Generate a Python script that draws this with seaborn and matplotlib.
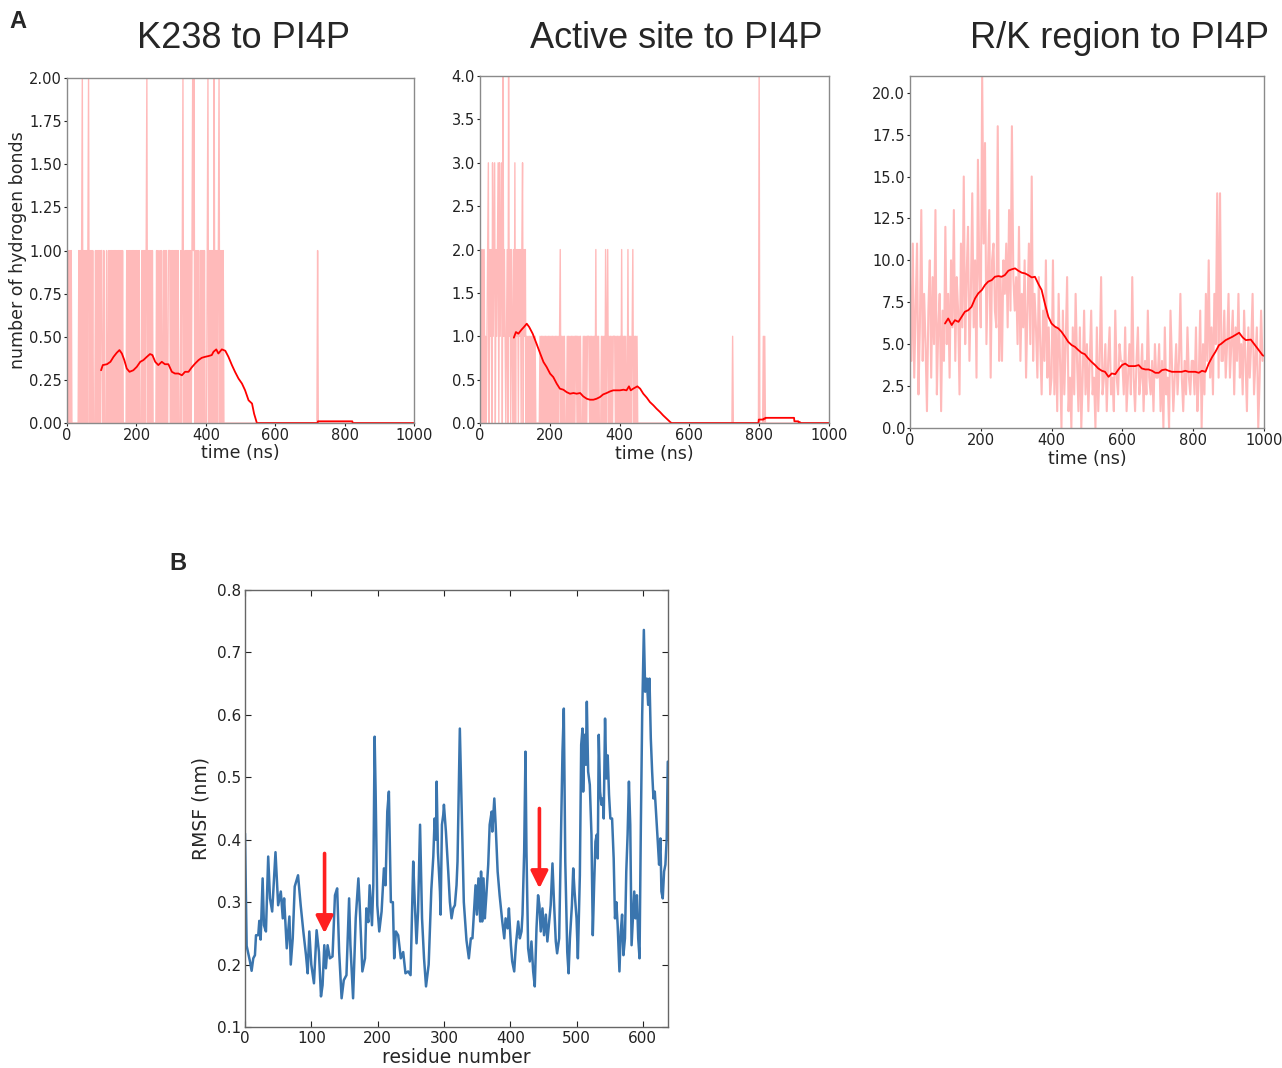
import numpy as np
import pandas as pd
import matplotlib
matplotlib.use("Agg")
import matplotlib.pyplot as plt
from matplotlib.ticker import FormatStrFormatter
import seaborn as sns

# ---- panel A data: hydrogen bond counts, one digit per 2 ns frame ----
hb_k238 = (
    "1010101 0000000000 101012010101012010101000101010101"
    "1001000100 1010101010 1010101010 1000001010 1010101010"
    "1010100010 1010120101 0101000001 0100101001 0101001110"
    "1010101010 1000101200 1010101010 1212010101 0010101010"
    "0012010101 0020101012 0101010000 0000000000 0000000000"
    "0000000000 0000000000 0000000000 0000000000 0000000000"
    "0000000000 0000000000 0000000000 0000000000 0000000000"
    "0000000000 0100000000 0000000000 0000000000 0000000000"
    "0000000000 0000000000 0000000000 0000000000 0000000000"
    "0000000000 0000000000 0000000000 0000000000 0000000000"
)
hb_active = (
    "2020202 0101 230212031230212303123041210120412021020"
    "30212 02120 23021 20101 01010 10101 00000 01010 10101 01010"
    "10101 01010 10101 20101 01000 10101 01010 10110 10101 00010"
    "10101 11010 10101 02010 10001 01010 20120 10101 01110 10101"
    "01020 10101 00201 01012 01010 10000 00000 00000 00000 00000"
    "0000000000 0000000000 0000000000 0000000000 0000000000"
    "0000000000 0000000000 0000000000 0000000000 0000000000"
    "0000000000 0010000000 0000000000 0000000000 0000000000"
    "4000001010 0000000000 0000000000 0000000000 0000000000"
    "0000000000 0000000000 0000000000 0000000000 0000000000"
)
# R/K region counts, one value per 4 ns
hb_rk = [
    9, 4, 11, 3, 7, 11, 2, 6, 13, 4, 8, 5, 1, 7, 10, 3, 9, 5, 13, 2, 6, 8, 1, 7, 4,
    12, 5, 8, 3, 10, 6, 13, 4, 9, 7, 2, 11, 6, 15, 5, 9, 12, 4, 8, 14, 6, 10, 3, 16, 9,
    6, 21, 11, 17, 5, 9, 13, 3, 10, 11, 7, 6, 18, 4, 9, 4, 10, 8, 11, 6, 13, 7, 18, 9, 7,
    9, 5, 12, 4, 8, 6, 10, 3, 7, 11, 5, 15, 4, 8, 6, 3, 9, 5, 2, 7, 4, 10, 3, 6, 2,
    3, 10, 2, 6, 1, 8, 4, 0, 7, 2, 5, 9, 1, 3, 0, 6, 2, 8, 4, 1, 6, 0, 3, 7, 2,
    5, 1, 4, 7, 2, 3, 0, 6, 1, 4, 9, 2, 3, 5, 1, 4, 6, 2, 3, 1, 7, 3, 2, 5, 4,
    4, 2, 6, 1, 3, 5, 2, 9, 3, 1, 4, 6, 2, 3, 5, 1, 4, 2, 7, 3, 2, 4, 1, 5, 3,
    3, 5, 1, 4, 0, 6, 2, 3, 0, 7, 4, 1, 3, 5, 2, 4, 8, 3, 1, 4, 2, 6, 3, 2, 4,
    4, 2, 6, 1, 3, 7, 0, 5, 2, 8, 4, 10, 3, 6, 2, 8, 5, 14, 3, 14, 4, 4, 7, 3, 5,
    8, 3, 5, 7, 2, 6, 4, 8, 3, 5, 2, 7, 4, 1, 6, 3, 5, 8, 2, 4, 6, 0, 3, 7, 4,
]

# running averages
avg_k238_t = [98, 103, 115, 125, 134, 143, 151, 158, 165, 172, 180, 191, 201, 211, 220, 230, 239, 246, 254, 263,
              273, 282, 292, 302, 311, 321, 331, 340, 350, 359, 369, 379, 388, 398, 407, 417, 422, 430, 436, 446,
              456, 465, 475, 484, 494, 504, 513, 523, 533, 539, 547, 722, 723, 822, 823, 1000]
avg_k238_v = [0.306, 0.336, 0.341, 0.355, 0.384, 0.407, 0.423, 0.403, 0.365, 0.316, 0.297, 0.306, 0.326, 0.355,
              0.365, 0.384, 0.400, 0.394, 0.355, 0.336, 0.355, 0.341, 0.341, 0.297, 0.287, 0.287, 0.277, 0.297,
              0.297, 0.322, 0.345, 0.365, 0.378, 0.384, 0.388, 0.394, 0.413, 0.427, 0.403, 0.427, 0.419, 0.384,
              0.336, 0.297, 0.258, 0.229, 0.190, 0.132, 0.113, 0.054, 0.0, 0.0, 0.01, 0.01, 0.0, 0.0]

avg_active_t = [97, 103, 110, 119, 126, 134, 141, 151, 162, 172, 182, 191, 201, 210, 220, 229, 239, 248, 258, 268,
                277, 287, 296, 306, 315, 325, 334, 344, 353, 363, 373, 382, 392, 401, 411, 420, 427, 432, 439, 451,
                459, 468, 478, 487, 497, 506, 516, 525, 535, 545, 549, 798, 799, 812, 813, 817, 818, 900, 901, 912,
                913, 917, 918, 1000]
avg_active_v = [0.984, 1.049, 1.03, 1.076, 1.107, 1.145, 1.107, 1.03, 0.915, 0.807, 0.703, 0.646, 0.569, 0.53,
                0.453, 0.396, 0.384, 0.357, 0.338, 0.346, 0.338, 0.346, 0.307, 0.28, 0.269, 0.269, 0.28, 0.3,
                0.33, 0.346, 0.365, 0.377, 0.377, 0.377, 0.384, 0.377, 0.423, 0.377, 0.396, 0.423, 0.396, 0.338,
                0.292, 0.242, 0.204, 0.165, 0.127, 0.088, 0.05, 0.012, 0.0, 0.0, 0.04, 0.04, 0.05, 0.05, 0.06,
                0.06, 0.02, 0.02, 0.01, 0.01, 0.0, 0.0]

avg_rk_t = [99, 108, 118, 127, 137, 146, 155, 165, 174, 184, 193, 203, 212, 221, 231, 240, 250, 259, 268, 278,
            287, 297, 306, 316, 325, 334, 344, 353, 363, 372, 381, 391, 400, 410, 419, 428, 438, 447, 457, 466,
            476, 485, 494, 504, 513, 523, 532, 542, 551, 561, 570, 580, 589, 599, 608, 618, 627, 636, 646, 655,
            665, 674, 684, 693, 703, 712, 722, 731, 740, 750, 759, 768, 778, 787, 797, 806, 816, 825, 835, 844,
            854, 863, 873, 878, 892, 911, 930, 940, 949, 963, 982, 996, 1000]
avg_rk_v = [6.23, 6.53, 6.14, 6.43, 6.33, 6.63, 6.93, 7.03, 7.23, 7.73, 8.03, 8.23, 8.53, 8.73, 8.82, 9.02, 9.06,
            9.02, 9.12, 9.38, 9.46, 9.52, 9.38, 9.26, 9.22, 9.12, 8.98, 9.02, 8.58, 8.23, 7.43, 6.63, 6.23, 6.04,
            5.94, 5.74, 5.44, 5.14, 4.94, 4.84, 4.64, 4.48, 4.4, 4.14, 3.94, 3.75, 3.55, 3.41, 3.35, 3.05, 3.25,
            3.21, 3.49, 3.75, 3.84, 3.69, 3.69, 3.69, 3.75, 3.55, 3.49, 3.49, 3.41, 3.29, 3.29, 3.45, 3.49, 3.41,
            3.35, 3.35, 3.35, 3.35, 3.41, 3.35, 3.35, 3.35, 3.29, 3.41, 3.35, 3.84, 4.24, 4.54, 4.94, 5.0, 5.24,
            5.44, 5.68, 5.4, 5.24, 5.27, 4.74, 4.34, 4.3]

# ---- panel B data: RMSF per residue ----
residue = [0, 2.5, 7.5, 10, 12.5, 15, 16.6, 20, 21.6, 23.6, 26.6, 28.6, 31.6, 35, 37.7, 41, 46, 50, 54, 57, 59, 63,
           67, 69, 72, 75, 80, 84, 88, 92, 94.5, 97, 100, 104, 108, 111.5, 114.6, 117, 119.6, 122, 124.6, 128, 132,
           135.7, 139, 142, 145.7, 149, 153, 157, 159, 163, 167, 171, 173, 177, 181, 183, 186, 188, 191.5, 193.5,
           195.5, 197, 199.5, 202.5, 206, 209.5, 212, 214.6, 217, 220, 223, 225, 227.6, 231, 235, 238.6, 242, 246,
           249.7, 253.7, 256, 258.7, 261, 264, 267, 270, 273, 277, 281, 284, 286, 288, 289, 291, 294, 295, 297, 299,
           300, 303, 306.5, 309, 311.5, 314, 316.5, 319, 320.5, 322.5, 324, 326.6, 330, 334, 337.6, 340.6, 343,
           345.7, 347.7, 349.7, 352, 354.7, 356, 357.7, 359.7, 361.7, 364, 366.8, 369, 372, 373, 376, 378, 381, 384,
           388, 391, 393, 396, 398, 401, 403, 406, 408.5, 412, 414.5, 417, 418.5, 421, 423, 424.5, 427, 429.5, 432,
           434.6, 437, 439.6, 442, 444, 446, 448.6, 451, 453.7, 456, 458.7, 461, 463.7, 466, 468.7, 470.7, 473.8,
           476, 478.8, 480.8, 483, 486, 488, 490, 493, 495, 497, 500, 502, 505, 507, 509, 510, 512, 514, 515.5,
           517.5, 520, 522.5, 524.5, 526.5, 528.5, 530.5, 532, 533.5, 535.5, 537.5, 539.6, 541, 543, 545, 547, 549,
           551, 553.6, 556, 558, 560, 562, 564.7, 566.7, 568.7, 570.7, 573, 575, 577, 579, 581, 583, 585, 587, 589,
           591, 593, 595, 597, 599, 601.5, 603.5, 606, 608, 610, 612, 614, 616, 618, 620.5, 622.5, 624.5, 626.5,
           628, 630, 632, 634, 636, 637.6]
rmsf = [0.41, 0.23, 0.205, 0.19, 0.21, 0.215, 0.247, 0.247, 0.27, 0.24, 0.338, 0.263, 0.253, 0.373, 0.306, 0.285,
        0.38, 0.295, 0.317, 0.274, 0.306, 0.226, 0.277, 0.2, 0.242, 0.325, 0.343, 0.295, 0.253, 0.215, 0.186, 0.253,
        0.2, 0.17, 0.255, 0.22, 0.149, 0.167, 0.231, 0.194, 0.231, 0.21, 0.213, 0.311, 0.322, 0.22, 0.146, 0.175,
        0.183, 0.306, 0.231, 0.146, 0.274, 0.338, 0.295, 0.189, 0.21, 0.29, 0.268, 0.327, 0.263, 0.327, 0.565,
        0.477, 0.295, 0.253, 0.285, 0.354, 0.327, 0.445, 0.477, 0.3, 0.3, 0.21, 0.253, 0.247, 0.21, 0.22, 0.186,
        0.189, 0.183, 0.365, 0.3, 0.234, 0.285, 0.424, 0.274, 0.21, 0.165, 0.2, 0.32, 0.373, 0.434, 0.4, 0.493,
        0.38, 0.317, 0.28, 0.424, 0.44, 0.456, 0.413, 0.349, 0.3, 0.274, 0.29, 0.295, 0.327, 0.365, 0.488, 0.578,
        0.46, 0.3, 0.239, 0.21, 0.242, 0.242, 0.29, 0.327, 0.28, 0.338, 0.269, 0.349, 0.269, 0.338, 0.274, 0.311,
        0.36, 0.424, 0.445, 0.413, 0.466, 0.424, 0.349, 0.311, 0.269, 0.242, 0.274, 0.258, 0.29, 0.231, 0.205,
        0.189, 0.231, 0.269, 0.242, 0.253, 0.28, 0.38, 0.541, 0.38, 0.226, 0.205, 0.237, 0.189, 0.165, 0.258,
        0.311, 0.295, 0.253, 0.29, 0.247, 0.28, 0.237, 0.269, 0.295, 0.362, 0.3, 0.237, 0.218, 0.242, 0.37, 0.541,
        0.61, 0.365, 0.22, 0.186, 0.242, 0.295, 0.354, 0.317, 0.274, 0.21, 0.343, 0.552, 0.578, 0.477, 0.568,
        0.52, 0.621, 0.509, 0.488, 0.408, 0.247, 0.327, 0.397, 0.408, 0.37, 0.568, 0.477, 0.456, 0.466, 0.434,
        0.594, 0.498, 0.535, 0.472, 0.434, 0.434, 0.37, 0.274, 0.3, 0.263, 0.189, 0.253, 0.28, 0.215, 0.242,
        0.349, 0.408, 0.493, 0.424, 0.231, 0.274, 0.317, 0.274, 0.311, 0.242, 0.21, 0.424, 0.6, 0.736, 0.637,
        0.658, 0.616, 0.658, 0.562, 0.509, 0.466, 0.477, 0.434, 0.397, 0.36, 0.402, 0.317, 0.306, 0.349, 0.36,
        0.402, 0.525]

arrow_residues = [120, 444]
arrow_tops = [0.378, 0.45]
arrow_tips = [0.25, 0.322]

titles = ["K238 to PI4P", "Active site to PI4P", "R/K region to PI4P"]

PINK = "#ffbaba"
RED = "#ff0000"
BLUE = "#3a75ae"
SPINE = "#8a8a8a"

sns.set_style("ticks")
plt.rcParams["font.family"] = ["DejaVu Sans"]

fig = plt.figure(figsize=(12.82, 10.68), dpi=100)


def frames(s, step):
    vals = [int(c) for c in s.replace(" ", "")]
    return pd.DataFrame({"t": np.arange(len(vals)) * step, "n": vals})


def style_a(ax, ymax, yticks, fmt):
    ax.set_xlim(0, 1000)
    ax.set_ylim(0, ymax)
    ax.set_xticks([0, 200, 400, 600, 800, 1000])
    ax.set_yticks(yticks)
    ax.yaxis.set_major_formatter(FormatStrFormatter(fmt))
    ax.tick_params(direction="out", length=2, width=0.8, colors="#222222",
                   labelsize=10.5, pad=1.5)
    for sp in ax.spines.values():
        sp.set_color(SPINE)
        sp.set_linewidth(1.0)
        sp.set_visible(True)
    ax.set_xlabel("time (ns)", fontsize=12.5)
    ax.xaxis.set_label_coords(0.5, -0.062)
    ax.set_ylabel("")


pos = [(0.0523, 0.6039, 0.2707, 0.3230),
       (0.3744, 0.6039, 0.2722, 0.3249),
       (0.7098, 0.5993, 0.2761, 0.3296)]

# K238
ax1 = fig.add_axes(pos[0])
d1 = frames(hb_k238, 2)
sns.lineplot(data=d1, x="t", y="n", ax=ax1, color=PINK, lw=1.0, estimator=None, sort=False)
sns.lineplot(x=avg_k238_t, y=avg_k238_v, ax=ax1, color=RED, lw=1.3, estimator=None, sort=False)
style_a(ax1, 2.0, np.arange(0, 2.01, 0.25), "%.2f")
ax1.set_ylabel("number of hydrogen bonds", fontsize=12.5)
ax1.yaxis.set_label_coords(-0.115, 0.5)

# Active site
ax2 = fig.add_axes(pos[1])
d2 = frames(hb_active, 2)
sns.lineplot(data=d2, x="t", y="n", ax=ax2, color=PINK, lw=1.0, estimator=None, sort=False)
sns.lineplot(x=avg_active_t, y=avg_active_v, ax=ax2, color=RED, lw=1.3, estimator=None, sort=False)
style_a(ax2, 4.0, np.arange(0, 4.01, 0.5), "%.1f")

# R/K region
ax3 = fig.add_axes(pos[2])
d3 = pd.DataFrame({"t": np.arange(len(hb_rk)) * 4, "n": hb_rk})
sns.lineplot(data=d3, x="t", y="n", ax=ax3, color=PINK, lw=1.5, estimator=None, sort=False)
sns.lineplot(x=avg_rk_t, y=avg_rk_v, ax=ax3, color=RED, lw=1.3, estimator=None, sort=False)
style_a(ax3, 21.0, np.arange(0, 20.01, 2.5), "%.1f")

title_x = [0.1896, 0.5273, 0.8736]
for tx, tt in zip(title_x, titles):
    fig.text(tx, 0.9644, tt, ha="center", va="center", fontsize=26,
             family=["Liberation Sans", "DejaVu Sans"])

fig.text(0.014, 0.980, "A", ha="center", va="center", fontsize=17, fontweight="bold",
         family=["Liberation Sans", "DejaVu Sans"])
fig.text(0.139, 0.472, "B", ha="center", va="center", fontsize=17, fontweight="bold",
         family=["Liberation Sans", "DejaVu Sans"])

# ---- panel B ----
axb = fig.add_axes((0.1911, 0.0384, 0.330, 0.4092))
sns.lineplot(x=residue, y=rmsf, ax=axb, color=BLUE, lw=1.8, estimator=None, sort=False)
axb.set_xlim(0, 638)
axb.set_ylim(0.1, 0.8)
axb.set_xticks([0, 100, 200, 300, 400, 500, 600])
axb.set_yticks(np.arange(0.1, 0.81, 0.1))
axb.yaxis.set_major_formatter(FormatStrFormatter("%.1f"))
axb.tick_params(direction="in", length=4, width=0.8, colors="#222222", labelsize=11,
                top=True, right=True, pad=3)
for sp in axb.spines.values():
    sp.set_color("#666666")
    sp.set_linewidth(1.0)
axb.set_xlabel("residue number", fontsize=13.5)
axb.xaxis.set_label_coords(0.5, -0.048)
axb.set_ylabel("RMSF (nm)", fontsize=13.5)
axb.yaxis.set_label_coords(-0.082, 0.5)

for r, top, tip in zip(arrow_residues, arrow_tops, arrow_tips):
    axb.annotate("", xy=(r, tip), xytext=(r, top),
                 arrowprops=dict(arrowstyle="-|>", color="#ff2020", lw=2.6,
                                 mutation_scale=26, shrinkA=0, shrinkB=0))

fig.savefig("out.png", dpi=100)
